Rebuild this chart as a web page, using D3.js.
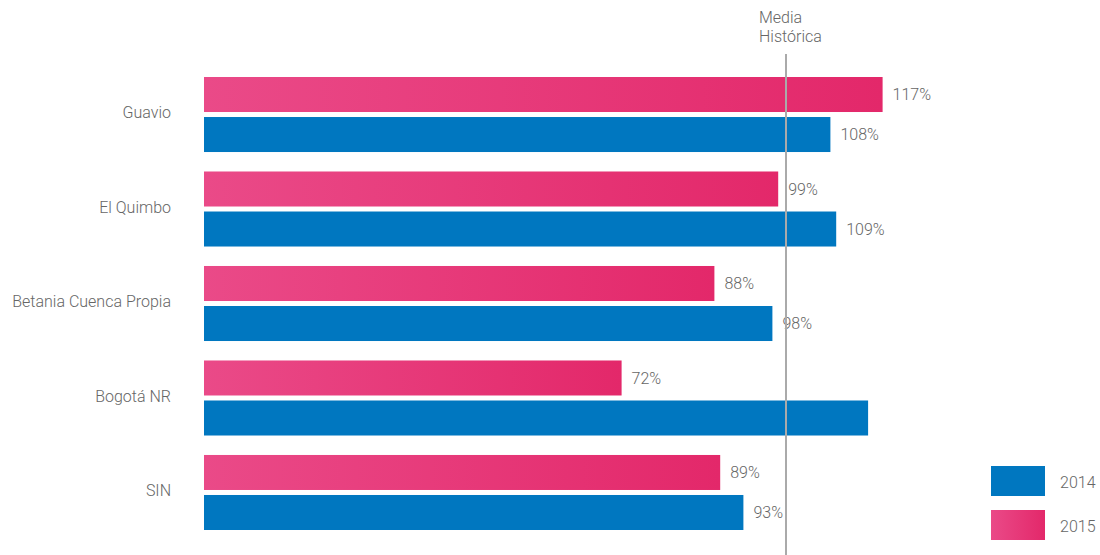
<!DOCTYPE html>
<html>
<head>
<meta charset="utf-8">
<script src="https://cdn.jsdelivr.net/npm/d3@7"></script>
<style>
  html, body { margin: 0; padding: 0; background: #fff; }
  svg { display: block; font-family: Roboto, "Liberation Sans", sans-serif; font-weight: 300; }
</style>
</head>
<body>
<svg id="chart" width="1100" height="555"></svg>
<script>
// Embalses: nivel respecto a la media histórica
const categories = ["Guavio", "El Quimbo", "Betania Cuenca Propia", "Bogotá NR", "SIN"];
const years = ["2015", "2014"];
const values2015 = [117, 99, 88, 72, 89];
const values2014 = [108, 109, 98, 114.5, 93];
const labels2015 = ["117%", "99%", "88%", "72%", "89%"];
const labels2014 = ["108%", "109%", "98%", "", "93%"];
const mediaHistorica = 100;
const legendYears = ["2014", "2015"];

const svg = d3.select("#chart");

const pinkLeft = "#ea4a88", pinkRight = "#e3286a", blue = "#0077c0";
const textColor = "#666";
const fontSize = 16;

const defs = svg.append("defs");
const grad = defs.append("linearGradient").attr("id", "pinkGrad")
  .attr("x1", "0%").attr("x2", "100%").attr("y1", "0%").attr("y2", "0%");
grad.append("stop").attr("offset", "0%").attr("stop-color", pinkLeft);
grad.append("stop").attr("offset", "100%").attr("stop-color", pinkRight);

const x = d3.scaleLinear().domain([0, 100]).range([204, 784]);
const y = d3.scaleBand().domain(categories).range([77, 530]).paddingInner(0.206).paddingOuter(0);
const yInner = d3.scaleBand().domain(years).range([0, y.bandwidth()]).paddingInner(0.125).paddingOuter(0);

const rows = categories.map((c, i) => ({
  cat: c,
  bars: [
    { year: "2015", v: values2015[i], label: labels2015[i] },
    { year: "2014", v: values2014[i], label: labels2014[i] }
  ]
}));

const groups = svg.append("g").selectAll("g.grp").data(rows).join("g")
  .attr("class", "grp")
  .attr("transform", d => `translate(0,${y(d.cat)})`);

groups.selectAll("rect").data(d => d.bars).join("rect")
  .attr("x", x(0))
  .attr("y", d => yInner(d.year))
  .attr("width", d => x(d.v) - x(0))
  .attr("height", yInner.bandwidth())
  .attr("fill", d => d.year === "2015" ? "url(#pinkGrad)" : blue);

groups.selectAll("text.val").data(d => d.bars.filter(b => b.label)).join("text")
  .attr("class", "val")
  .attr("x", d => x(d.v) + 10)
  .attr("y", d => yInner(d.year) + yInner.bandwidth() / 2)
  .attr("dy", "0.35em")
  .attr("font-size", fontSize)
  .attr("fill", textColor)
  .text(d => d.label);

// category axis labels
groups.append("text")
  .attr("x", 171)
  .attr("y", y.bandwidth() / 2 - 2)
  .attr("dy", "0.35em")
  .attr("text-anchor", "end")
  .attr("font-size", fontSize)
  .attr("fill", textColor)
  .text(d => d.cat);

// reference line
svg.append("line")
  .attr("x1", x(mediaHistorica) + 2).attr("x2", x(mediaHistorica) + 2)
  .attr("y1", 54).attr("y2", 555)
  .attr("stroke", "#aaa").attr("stroke-width", 2);

const mediaText = svg.append("text")
  .attr("font-size", fontSize)
  .attr("fill", textColor);
mediaText.append("tspan").attr("x", x(mediaHistorica) - 25).attr("y", 23).text("Media");
mediaText.append("tspan").attr("x", x(mediaHistorica) - 25).attr("y", 42).text("Histórica");

// legend
const legend = svg.append("g").selectAll("g").data(legendYears).join("g")
  .attr("transform", (d, i) => `translate(991,${466 + i * 44})`);
legend.append("rect")
  .attr("width", 54).attr("height", 30)
  .attr("fill", d => d === "2015" ? "url(#pinkGrad)" : blue);
legend.append("text")
  .attr("x", 69).attr("y", 16).attr("dy", "0.35em")
  .attr("font-size", fontSize)
  .attr("fill", textColor)
  .text(d => d);
</script>
</body>
</html>
